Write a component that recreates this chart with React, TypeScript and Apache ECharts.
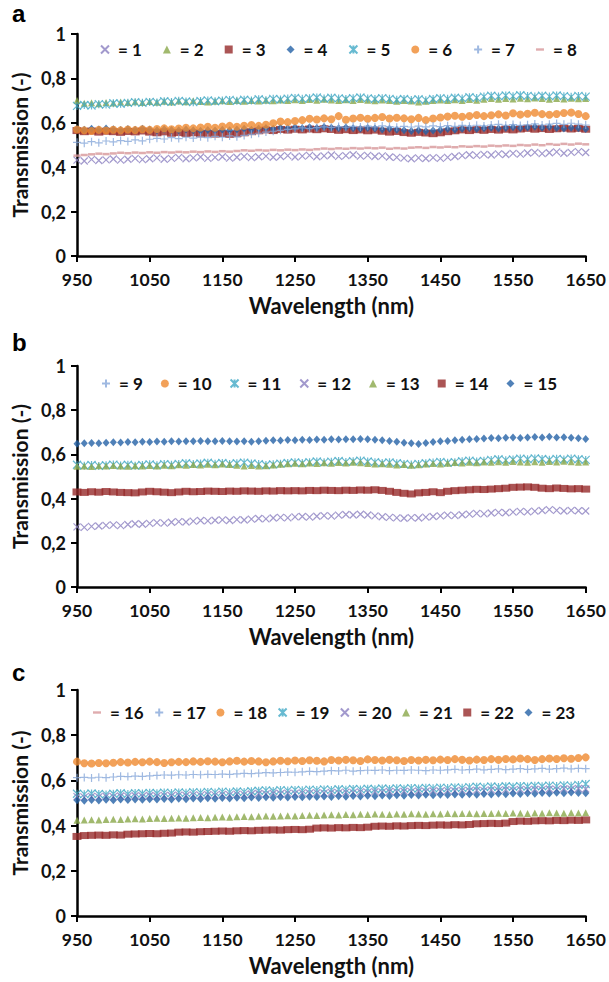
import React, { useEffect, useRef } from "react";
import * as echarts from "echarts";

const WAVELENGTHS = [
  950, 960, 970, 980, 990, 1000, 1010, 1020, 1030, 1040,
  1050, 1060, 1070, 1080, 1090, 1100, 1110, 1120, 1130, 1140,
  1150, 1160, 1170, 1180, 1190, 1200, 1210, 1220, 1230, 1240,
  1250, 1260, 1270, 1280, 1290, 1300, 1310, 1320, 1330, 1340,
  1350, 1360, 1370, 1380, 1390, 1400, 1410, 1420, 1430, 1440,
  1450, 1460, 1470, 1480, 1490, 1500, 1510, 1520, 1530, 1540,
  1550, 1560, 1570, 1580, 1590, 1600, 1610, 1620, 1630, 1640,
  1650,
];

const Y_TICKS = [0, 0.2, 0.4, 0.6, 0.8, 1];

// ---------- panel a ----------
const S1 = [
  0.432, 0.428, 0.435, 0.430, 0.433, 0.437, 0.432, 0.436, 0.440, 0.434,
  0.438, 0.442, 0.436, 0.440, 0.444, 0.438, 0.442, 0.446, 0.440, 0.444,
  0.447, 0.441, 0.445, 0.449, 0.443, 0.447, 0.450, 0.445, 0.448, 0.452,
  0.446, 0.450, 0.453, 0.447, 0.451, 0.455, 0.449, 0.452, 0.456, 0.450,
  0.453, 0.448, 0.451, 0.446, 0.444, 0.441, 0.438, 0.442, 0.439, 0.443,
  0.440, 0.444, 0.448, 0.452, 0.456, 0.453, 0.458, 0.455, 0.460, 0.457,
  0.462, 0.459, 0.464, 0.467, 0.461, 0.465, 0.469, 0.463, 0.467, 0.470,
  0.466,
];
const S2 = [
  0.700, 0.688, 0.690, 0.686, 0.692, 0.689, 0.694, 0.691, 0.695, 0.692,
  0.696, 0.693, 0.697, 0.694, 0.698, 0.695, 0.699, 0.696, 0.694, 0.697,
  0.699, 0.696, 0.700, 0.697, 0.701, 0.698, 0.702, 0.699, 0.703, 0.700,
  0.704, 0.701, 0.705, 0.702, 0.706, 0.703, 0.700, 0.704, 0.701, 0.705,
  0.702, 0.699, 0.703, 0.700, 0.697, 0.701, 0.698, 0.694, 0.697, 0.700,
  0.703, 0.700, 0.704, 0.701, 0.705, 0.702, 0.706, 0.709, 0.706, 0.710,
  0.707, 0.711, 0.708, 0.712, 0.709, 0.706, 0.710, 0.707, 0.711, 0.708,
  0.709,
];
const S3 = [
  0.565, 0.560, 0.563, 0.558, 0.562, 0.560, 0.557, 0.561, 0.559, 0.563,
  0.558, 0.555, 0.559, 0.553, 0.556, 0.552, 0.555, 0.550, 0.553, 0.549,
  0.552, 0.548, 0.551, 0.555, 0.560, 0.564, 0.568, 0.565, 0.570, 0.567,
  0.571, 0.568, 0.572, 0.569, 0.573, 0.570, 0.566, 0.569, 0.565, 0.568,
  0.564, 0.567, 0.562, 0.558, 0.561, 0.556, 0.553, 0.557, 0.554, 0.551,
  0.555, 0.560, 0.564, 0.568, 0.565, 0.569, 0.566, 0.570, 0.567, 0.571,
  0.568, 0.572, 0.575, 0.571, 0.574, 0.570, 0.573, 0.576, 0.572, 0.575,
  0.571,
];
const S4 = [
  0.572, 0.569, 0.573, 0.570, 0.574, 0.571, 0.568, 0.572, 0.569, 0.573,
  0.570, 0.567, 0.571, 0.568, 0.566, 0.570, 0.567, 0.564, 0.568, 0.565,
  0.569, 0.566, 0.570, 0.573, 0.569, 0.574, 0.577, 0.573, 0.578, 0.575,
  0.579, 0.576, 0.580, 0.577, 0.581, 0.578, 0.575, 0.579, 0.576, 0.573,
  0.577, 0.574, 0.570, 0.573, 0.569, 0.566, 0.563, 0.566, 0.562, 0.565,
  0.568, 0.572, 0.569, 0.573, 0.576, 0.572, 0.575, 0.578, 0.574, 0.577,
  0.580, 0.576, 0.579, 0.582, 0.578, 0.581, 0.577, 0.574, 0.578, 0.575,
  0.572,
];
const S5 = [
  0.676, 0.680, 0.678, 0.684, 0.682, 0.688, 0.686, 0.690, 0.693, 0.690,
  0.694, 0.692, 0.697, 0.694, 0.699, 0.696, 0.693, 0.698, 0.701, 0.697,
  0.700, 0.703, 0.699, 0.704, 0.701, 0.706, 0.702, 0.708, 0.705, 0.709,
  0.712, 0.708, 0.711, 0.714, 0.709, 0.713, 0.710, 0.707, 0.711, 0.714,
  0.710, 0.707, 0.711, 0.708, 0.704, 0.707, 0.703, 0.706, 0.702, 0.707,
  0.711, 0.708, 0.713, 0.710, 0.715, 0.712, 0.718, 0.722, 0.719, 0.723,
  0.720, 0.724, 0.721, 0.718, 0.722, 0.719, 0.723, 0.720, 0.717, 0.721,
  0.718,
];
const S6 = [
  0.570, 0.566, 0.563, 0.568, 0.565, 0.569, 0.566, 0.570, 0.567, 0.571,
  0.568, 0.572, 0.575, 0.571, 0.574, 0.578, 0.575, 0.579, 0.582, 0.578,
  0.583, 0.586, 0.582, 0.587, 0.590, 0.586, 0.591, 0.598, 0.606, 0.603,
  0.608, 0.612, 0.618, 0.615, 0.620, 0.616, 0.630, 0.614, 0.619, 0.623,
  0.618, 0.622, 0.626, 0.619, 0.623, 0.620, 0.616, 0.622, 0.612, 0.619,
  0.624, 0.628, 0.632, 0.627, 0.631, 0.635, 0.630, 0.634, 0.638, 0.633,
  0.643, 0.637, 0.641, 0.645, 0.639, 0.636, 0.640, 0.644, 0.646, 0.640,
  0.630,
];
const S7 = [
  0.512, 0.508, 0.515, 0.510, 0.518, 0.514, 0.520, 0.516, 0.523, 0.519,
  0.526, 0.530, 0.527, 0.533, 0.529, 0.535, 0.531, 0.537, 0.533, 0.539,
  0.535, 0.541, 0.537, 0.543, 0.548, 0.553, 0.558, 0.562, 0.566, 0.570,
  0.573, 0.577, 0.574, 0.578, 0.582, 0.579, 0.583, 0.580, 0.584, 0.581,
  0.585, 0.582, 0.586, 0.583, 0.580, 0.584, 0.581, 0.585, 0.582, 0.586,
  0.583, 0.587, 0.584, 0.588, 0.585, 0.589, 0.586, 0.590, 0.593, 0.589,
  0.592, 0.588, 0.591, 0.595, 0.590, 0.594, 0.597, 0.593, 0.598, 0.594,
  0.590,
];
const S8 = [
  0.452, 0.455, 0.458, 0.461, 0.459, 0.462, 0.465, 0.463, 0.466, 0.464,
  0.467, 0.465, 0.468, 0.466, 0.469, 0.467, 0.470, 0.468, 0.471, 0.469,
  0.472, 0.470, 0.473, 0.476, 0.474, 0.477, 0.475, 0.478, 0.476, 0.479,
  0.477, 0.480, 0.478, 0.481, 0.484, 0.482, 0.485, 0.483, 0.486, 0.484,
  0.487, 0.485, 0.488, 0.483, 0.486, 0.484, 0.488, 0.490, 0.487, 0.491,
  0.489, 0.492, 0.490, 0.494, 0.492, 0.495, 0.493, 0.497, 0.495, 0.498,
  0.496, 0.500, 0.498, 0.502, 0.499, 0.504, 0.501, 0.505, 0.502, 0.506,
  0.503,
];

// ---------- panel b ----------
const S9: number[] = [];
const S10: number[] = [];
const S11 = [
  0.553, 0.549, 0.552, 0.548, 0.551, 0.554, 0.550, 0.553, 0.549, 0.552,
  0.555, 0.551, 0.556, 0.553, 0.557, 0.560, 0.556, 0.559, 0.562, 0.558,
  0.561, 0.557, 0.560, 0.563, 0.559, 0.556, 0.552, 0.555, 0.558, 0.561,
  0.564, 0.561, 0.565, 0.568, 0.564, 0.567, 0.570, 0.566, 0.569, 0.572,
  0.568, 0.565, 0.561, 0.564, 0.560, 0.557, 0.554, 0.557, 0.560, 0.563,
  0.566, 0.562, 0.565, 0.569, 0.572, 0.568, 0.571, 0.575, 0.578, 0.574,
  0.577, 0.581, 0.578, 0.582, 0.579, 0.576, 0.580, 0.577, 0.581, 0.578,
  0.575,
];
const S12 = [
  0.272, 0.270, 0.274, 0.276, 0.279, 0.281, 0.278, 0.283, 0.286, 0.284,
  0.288, 0.291, 0.289, 0.293, 0.296, 0.294, 0.298, 0.301, 0.299, 0.302,
  0.304, 0.301, 0.305, 0.303, 0.307, 0.310, 0.308, 0.312, 0.315, 0.313,
  0.317, 0.319, 0.316, 0.320, 0.323, 0.321, 0.325, 0.328, 0.326, 0.329,
  0.326, 0.322, 0.318, 0.315, 0.313, 0.311, 0.314, 0.312, 0.316, 0.319,
  0.322, 0.325, 0.323, 0.327, 0.330, 0.333, 0.331, 0.335, 0.338, 0.336,
  0.339, 0.342, 0.340, 0.343, 0.346, 0.350, 0.347, 0.344, 0.347, 0.345,
  0.344,
];
const S13 = [
  0.546, 0.548, 0.545, 0.549, 0.547, 0.550, 0.548, 0.546, 0.549, 0.547,
  0.550, 0.548, 0.551, 0.549, 0.553, 0.551, 0.554, 0.552, 0.555, 0.553,
  0.556, 0.554, 0.551, 0.548, 0.550, 0.547, 0.549, 0.552, 0.555, 0.558,
  0.560, 0.558, 0.561, 0.559, 0.562, 0.560, 0.563, 0.561, 0.564, 0.562,
  0.559, 0.556, 0.558, 0.555, 0.552, 0.554, 0.551, 0.553, 0.556, 0.559,
  0.557, 0.560, 0.563, 0.561, 0.564, 0.562, 0.566, 0.564, 0.567, 0.565,
  0.568, 0.566, 0.564, 0.567, 0.565, 0.568, 0.566, 0.569, 0.567, 0.565,
  0.566,
];
const S14 = [
  0.430, 0.428, 0.431, 0.429, 0.432, 0.430, 0.428, 0.427, 0.426, 0.430,
  0.433, 0.431, 0.429, 0.427, 0.430, 0.433, 0.431, 0.432, 0.434, 0.433,
  0.432, 0.434, 0.433, 0.435, 0.434, 0.433, 0.435, 0.434, 0.436, 0.435,
  0.436, 0.435, 0.437, 0.436, 0.438, 0.437, 0.436, 0.438, 0.437, 0.439,
  0.438, 0.440, 0.437, 0.433, 0.428, 0.424, 0.421, 0.426, 0.428, 0.431,
  0.427, 0.433, 0.436, 0.438, 0.440, 0.442, 0.441, 0.443, 0.445, 0.447,
  0.451, 0.452, 0.453, 0.451, 0.447, 0.445, 0.448, 0.446, 0.444, 0.445,
  0.443,
];
const S15 = [
  0.648, 0.650, 0.652, 0.651, 0.653, 0.655, 0.654, 0.656, 0.655, 0.657,
  0.656, 0.658, 0.657, 0.659, 0.658, 0.660, 0.659, 0.661, 0.660, 0.659,
  0.661, 0.660, 0.658, 0.660, 0.657, 0.659, 0.662, 0.664, 0.663, 0.665,
  0.664, 0.666, 0.665, 0.667, 0.666, 0.668, 0.667, 0.669, 0.668, 0.670,
  0.668, 0.666, 0.664, 0.661, 0.657, 0.653, 0.650, 0.647, 0.652, 0.656,
  0.659, 0.661, 0.664, 0.666, 0.668, 0.670, 0.672, 0.674, 0.673, 0.675,
  0.676, 0.674, 0.677, 0.679, 0.677, 0.680, 0.676, 0.678, 0.675, 0.673,
  0.670,
];

// ---------- panel c ----------
const S16: number[] = [];
const S17 = [
  0.612, 0.613, 0.611, 0.614, 0.612, 0.615, 0.618, 0.617, 0.619, 0.618,
  0.620, 0.622, 0.624, 0.623, 0.625, 0.624, 0.626, 0.625, 0.627, 0.626,
  0.628, 0.627, 0.629, 0.631, 0.630, 0.632, 0.634, 0.633, 0.635, 0.637,
  0.636, 0.638, 0.640, 0.639, 0.641, 0.643, 0.642, 0.645, 0.641, 0.643,
  0.645, 0.644, 0.646, 0.643, 0.645, 0.644, 0.646, 0.645, 0.643, 0.646,
  0.645, 0.647, 0.649, 0.646, 0.648, 0.650, 0.647, 0.649, 0.651, 0.648,
  0.650, 0.652, 0.649, 0.651, 0.653, 0.650, 0.652, 0.654, 0.651, 0.653,
  0.652,
];
const S18 = [
  0.683, 0.676, 0.675, 0.677, 0.676, 0.678, 0.681, 0.679, 0.682, 0.680,
  0.683, 0.681, 0.677, 0.680, 0.682, 0.681, 0.684, 0.682, 0.685, 0.683,
  0.680, 0.684, 0.687, 0.683, 0.686, 0.684, 0.680, 0.684, 0.687, 0.685,
  0.688, 0.686, 0.689, 0.687, 0.684, 0.690, 0.688, 0.691, 0.689, 0.686,
  0.693, 0.690, 0.688, 0.691, 0.689, 0.686, 0.690, 0.688, 0.691, 0.689,
  0.692, 0.690, 0.694, 0.691, 0.688, 0.692, 0.690, 0.694, 0.691, 0.695,
  0.693, 0.697, 0.694, 0.690, 0.694, 0.697, 0.695, 0.698, 0.696, 0.699,
  0.702,
];
const S19 = [
  0.541, 0.539, 0.542, 0.540, 0.538, 0.541, 0.543, 0.540, 0.544, 0.542,
  0.545, 0.543, 0.546, 0.544, 0.547, 0.545, 0.548, 0.546, 0.549, 0.547,
  0.550, 0.548, 0.551, 0.549, 0.552, 0.554, 0.556, 0.553, 0.557, 0.555,
  0.558, 0.556, 0.559, 0.557, 0.560, 0.558, 0.561, 0.559, 0.562, 0.560,
  0.563, 0.561, 0.564, 0.562, 0.565, 0.563, 0.566, 0.564, 0.567, 0.565,
  0.568, 0.566, 0.569, 0.567, 0.570, 0.572, 0.570, 0.573, 0.571, 0.574,
  0.572, 0.575, 0.573, 0.576, 0.574, 0.577, 0.575, 0.578, 0.576, 0.580,
  0.584,
];
const S20 = [
  0.528, 0.526, 0.529, 0.527, 0.530, 0.528, 0.531, 0.529, 0.532, 0.530,
  0.533, 0.531, 0.534, 0.532, 0.535, 0.533, 0.536, 0.534, 0.537, 0.535,
  0.538, 0.536, 0.539, 0.537, 0.540, 0.542, 0.540, 0.543, 0.541, 0.544,
  0.542, 0.545, 0.543, 0.546, 0.544, 0.547, 0.545, 0.548, 0.546, 0.549,
  0.547, 0.550, 0.548, 0.551, 0.549, 0.552, 0.550, 0.553, 0.551, 0.554,
  0.552, 0.555, 0.553, 0.556, 0.554, 0.557, 0.555, 0.558, 0.556, 0.559,
  0.557, 0.560, 0.558, 0.561, 0.559, 0.562, 0.560, 0.563, 0.561, 0.564,
  0.562,
];
const S21 = [
  0.424, 0.425, 0.426, 0.425, 0.427, 0.428, 0.427, 0.429, 0.430, 0.429,
  0.431, 0.432, 0.431, 0.433, 0.434, 0.433, 0.435, 0.436, 0.435, 0.437,
  0.438, 0.437, 0.439, 0.440, 0.439, 0.441, 0.442, 0.441, 0.443, 0.444,
  0.443, 0.445, 0.446, 0.445, 0.447, 0.448, 0.447, 0.449, 0.448, 0.450,
  0.449, 0.451, 0.450, 0.449, 0.451, 0.450, 0.452, 0.451, 0.450, 0.452,
  0.451, 0.453, 0.452, 0.454, 0.453, 0.452, 0.454, 0.453, 0.455, 0.454,
  0.456, 0.455, 0.454, 0.456, 0.455, 0.457, 0.456, 0.455, 0.457, 0.456,
  0.457,
];
const S22 = [
  0.352, 0.356, 0.357, 0.358, 0.357, 0.359, 0.358, 0.362, 0.363, 0.364,
  0.365, 0.364, 0.366, 0.367, 0.371, 0.372, 0.371, 0.373, 0.374, 0.375,
  0.376, 0.375, 0.377, 0.378, 0.377, 0.379, 0.380, 0.381, 0.380, 0.382,
  0.383, 0.382, 0.384, 0.389, 0.390, 0.389, 0.391, 0.390, 0.392, 0.391,
  0.393, 0.397, 0.398, 0.397, 0.399, 0.398, 0.400, 0.401, 0.400, 0.402,
  0.403, 0.402, 0.404, 0.403, 0.405, 0.408, 0.409, 0.410, 0.409, 0.411,
  0.418, 0.420, 0.419, 0.421, 0.422, 0.421, 0.423, 0.422, 0.424, 0.423,
  0.425,
];
const S23 = [
  0.512, 0.510, 0.513, 0.511, 0.514, 0.512, 0.515, 0.513, 0.516, 0.514,
  0.517, 0.515, 0.518, 0.516, 0.519, 0.517, 0.520, 0.518, 0.521, 0.519,
  0.522, 0.520, 0.523, 0.521, 0.524, 0.522, 0.525, 0.523, 0.526, 0.524,
  0.527, 0.525, 0.528, 0.526, 0.529, 0.527, 0.530, 0.528, 0.531, 0.529,
  0.532, 0.530, 0.533, 0.531, 0.534, 0.532, 0.535, 0.533, 0.536, 0.534,
  0.537, 0.535, 0.538, 0.536, 0.539, 0.537, 0.540, 0.538, 0.541, 0.539,
  0.542, 0.540, 0.543, 0.541, 0.544, 0.542, 0.545, 0.543, 0.546, 0.544,
  0.543,
];

const PANEL_LETTERS = ["a", "b", "c"];
const X_NAME = "Wavelength (nm)";
const Y_NAME = "Transmission (-)";

// ---------- styles ----------
const COLORS = {
  purple: "#8b7fc0",
  green: "#8aa84a",
  red: "#962b2a",
  blue: "#2461a6",
  cyan: "#41a9c5",
  orange: "#ef8a2f",
  lightblue: "#87a8d9",
  pink: "#d7979a",
};

type MarkerKind = "cross" | "triangle" | "square" | "diamond" | "star" | "circle" | "plus" | "dash";

const MARKERS: Record<MarkerKind, { symbol: string; size: number | number[]; stroke: boolean; icon: string }> = {
  cross: { symbol: "path://M0,0L10,10M10,0L0,10", size: 7, stroke: true, icon: "path://M0,0L10,10M10,0L0,10" },
  plus: { symbol: "path://M5,0L5,10M0,5L10,5", size: 8, stroke: true, icon: "path://M5,0L5,10M0,5L10,5" },
  star: {
    symbol: "path://M0,0L10,10M10,0L0,10M5,0L5,10",
    size: 8,
    stroke: true,
    icon: "path://M0,0L10,10M10,0L0,10M5,0L5,10",
  },
  triangle: { symbol: "triangle", size: 7, stroke: false, icon: "triangle" },
  square: { symbol: "rect", size: [9, 7], stroke: false, icon: "rect" },
  diamond: { symbol: "diamond", size: [7, 8], stroke: false, icon: "diamond" },
  circle: { symbol: "circle", size: 8, stroke: false, icon: "circle" },
  dash: { symbol: "rect", size: [7, 2.5], stroke: false, icon: "path://M0,0L10,0L10,3L0,3Z" },
};

type SeriesDef = { name: string; panel: number; marker: MarkerKind; color: string; values: number[] };

const SERIES: SeriesDef[] = [
  { name: "= 1", panel: 0, marker: "cross", color: COLORS.purple, values: S1 },
  { name: "= 2", panel: 0, marker: "triangle", color: COLORS.green, values: S2 },
  { name: "= 3", panel: 0, marker: "square", color: COLORS.red, values: S3 },
  { name: "= 4", panel: 0, marker: "diamond", color: COLORS.blue, values: S4 },
  { name: "= 5", panel: 0, marker: "star", color: COLORS.cyan, values: S5 },
  { name: "= 6", panel: 0, marker: "circle", color: COLORS.orange, values: S6 },
  { name: "= 7", panel: 0, marker: "plus", color: COLORS.lightblue, values: S7 },
  { name: "= 8", panel: 0, marker: "dash", color: COLORS.pink, values: S8 },
  { name: "= 9", panel: 1, marker: "plus", color: COLORS.lightblue, values: S9 },
  { name: "= 10", panel: 1, marker: "circle", color: COLORS.orange, values: S10 },
  { name: "= 11", panel: 1, marker: "star", color: COLORS.cyan, values: S11 },
  { name: "= 12", panel: 1, marker: "cross", color: COLORS.purple, values: S12 },
  { name: "= 13", panel: 1, marker: "triangle", color: COLORS.green, values: S13 },
  { name: "= 14", panel: 1, marker: "square", color: COLORS.red, values: S14 },
  { name: "= 15", panel: 1, marker: "diamond", color: COLORS.blue, values: S15 },
  { name: "= 16", panel: 2, marker: "dash", color: COLORS.pink, values: S16 },
  { name: "= 17", panel: 2, marker: "plus", color: COLORS.lightblue, values: S17 },
  { name: "= 18", panel: 2, marker: "circle", color: COLORS.orange, values: S18 },
  { name: "= 19", panel: 2, marker: "star", color: COLORS.cyan, values: S19 },
  { name: "= 20", panel: 2, marker: "cross", color: COLORS.purple, values: S20 },
  { name: "= 21", panel: 2, marker: "triangle", color: COLORS.green, values: S21 },
  { name: "= 22", panel: 2, marker: "square", color: COLORS.red, values: S22 },
  { name: "= 23", panel: 2, marker: "diamond", color: COLORS.blue, values: S23 },
];

const GRIDS = [
  { top: 34, height: 222 },
  { top: 366, height: 221 },
  { top: 690, height: 226 },
];
const LEGENDS = [
  { left: 95, top: 36, gap: 21 },
  { left: 96, top: 370, gap: 18 },
  { left: 88, top: 699, gap: 10.5 },
];
const LETTER_TOPS = [1, 330, 660];

const FONT = "Lato, 'Open Sans', sans-serif";

export default function App() {
  const ref = useRef<HTMLDivElement>(null);
  useEffect(() => {
    if (!ref.current) return;
    const chart = echarts.init(ref.current, undefined, { renderer: "svg" });
    const fmtY = (v: number) => (v === 0 ? "0" : v === 1 ? "1" : v.toFixed(1).replace(".", ","));
    const labelStyle = { fontFamily: FONT, fontWeight: "bold" as const, color: "#111" };

    const option: any = {
      animation: false,
      backgroundColor: "#fff",
      grid: GRIDS.map((g) => ({ left: 77, width: 512, top: g.top, height: g.height, containLabel: false })),
      xAxis: GRIDS.map((_, i) => ({
        gridIndex: i,
        type: "category",
        data: WAVELENGTHS.map(String),
        boundaryGap: false,
        name: X_NAME,
        nameLocation: "middle",
        nameGap: 38,
        nameTextStyle: { ...labelStyle, fontSize: 22 },
        axisLine: { lineStyle: { color: "#000", width: 2.5 } },
        axisTick: { show: true, interval: 9, length: 6, lineStyle: { color: "#000", width: 2 } },
        axisLabel: { interval: 9, margin: 14, fontSize: 17.5, ...labelStyle },
        splitLine: { show: false },
      })),
      yAxis: GRIDS.map((_, i) => ({
        gridIndex: i,
        type: "value",
        min: Y_TICKS[0],
        max: Y_TICKS[Y_TICKS.length - 1],
        interval: 0.2,
        name: Y_NAME,
        nameLocation: "middle",
        nameGap: 45,
        nameRotate: 90,
        nameTextStyle: { ...labelStyle, fontSize: 21 },
        axisLine: { show: true, lineStyle: { color: "#000", width: 2.5 } },
        axisTick: { show: true, length: 6, lineStyle: { color: "#000", width: 2 } },
        axisLabel: { margin: 11, fontSize: 18, formatter: fmtY, ...labelStyle },
        splitLine: { show: false },
      })),
      legend: LEGENDS.map((l, i) => ({
        left: l.left,
        top: l.top,
        itemGap: l.gap,
        itemWidth: 8,
        itemHeight: 8,
        selectedMode: false,
        textStyle: { ...labelStyle, fontSize: 17, padding: [0, 0, 0, 4] },
        data: SERIES.filter((s) => s.panel === i).map((s) => ({ name: s.name, icon: MARKERS[s.marker].icon })),
      })),
      graphic: PANEL_LETTERS.map((t, i) => ({
        type: "text",
        left: 12,
        top: LETTER_TOPS[i],
        style: { text: t, font: "bold 24px 'Liberation Sans', Arial, sans-serif", fill: "#000" },
      })),
      series: SERIES.map((s) => {
        const m = MARKERS[s.marker];
        return {
          type: "scatter",
          name: s.name,
          xAxisIndex: s.panel,
          yAxisIndex: s.panel,
          symbol: m.symbol,
          symbolSize: m.size,
          itemStyle: m.stroke
            ? { color: "rgba(0,0,0,0)", borderColor: s.color, borderWidth: 1.2 }
            : { color: s.color, borderWidth: 0 },
          data: s.values,
        };
      }),
    };
    chart.setOption(option);
    return () => chart.dispose();
  }, []);
  return (
    <div
      ref={ref}
      style={{ position: "absolute", left: 0, top: 0, width: 609, height: 982, background: "#fff" }}
    />
  );
}
